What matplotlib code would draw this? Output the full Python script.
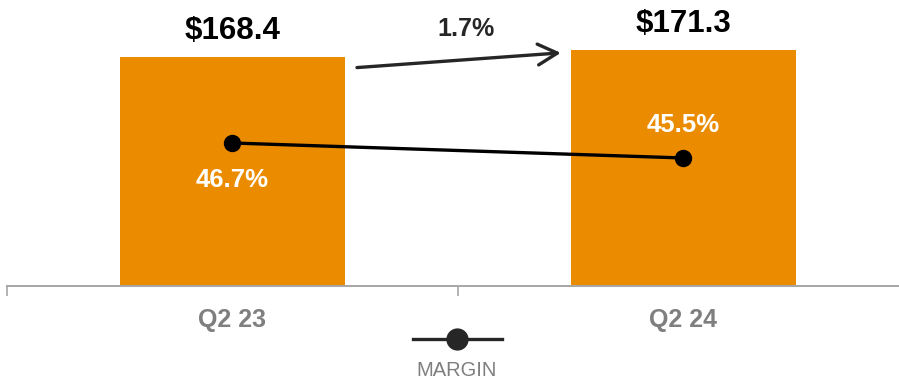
import matplotlib.pyplot as plt
from matplotlib.lines import Line2D

plt.rcParams['font.family'] = ['Liberation Sans', 'DejaVu Sans']

quarters = ['Q2 23', 'Q2 24']
revenue = [168.4, 171.3]
margin = [46.7, 45.5]

orange = '#EB8C00'
dark = '#262626'
grey = '#7f7f7f'

fig = plt.figure(figsize=(8.99, 3.79), dpi=100)
ax = fig.add_axes([7 / 899, 93 / 379, 892 / 899, 286 / 379])

x = range(len(quarters))
ax.bar(x, revenue, width=0.5, color=orange, zorder=2)
ax.set_ylim(73.5, 192.0)

for xi, v in zip(x, revenue):
    ax.annotate(f'${v:.1f}', (xi, v), xytext=(0, 18.5), textcoords='offset points',
                ha='center', va='center', fontsize=22.5, fontweight='bold', color='black')

# growth arrow between the two bars
growth = (revenue[1] / revenue[0] - 1) * 100
ax.annotate('', xy=(0.728, revenue[1] - 1.2), xytext=(0.276, revenue[0] - 4.4),
            arrowprops=dict(arrowstyle='->,head_length=1.4,head_width=0.75',
                            color=dark, lw=2.4, shrinkA=0, shrinkB=0))
ax.annotate(f'{growth:.1f}%', (0.518, 180.0), ha='center', va='center',
            fontsize=18, fontweight='bold', color=dark)

# axis styling: only the baseline with category separators
for s in ['top', 'right', 'left']:
    ax.spines[s].set_visible(False)
ax.spines['bottom'].set_color('#a6a6a6')
ax.spines['bottom'].set_linewidth(1.4)
ax.set_yticks([])
ax.set_xticks(list(x))
ax.set_xticklabels(quarters, fontsize=18, fontweight='bold', color=grey)
ax.tick_params(axis='x', which='major', length=0, pad=16)
ax.set_xticks([-0.5, 0.5, 1.5], minor=True)
ax.tick_params(axis='x', which='minor', length=7, width=1.2, color='#a6a6a6', direction='out')

# margin line on its own scale
ax2 = ax.twinx()
ax2.plot(x, margin, color='black', lw=2.4, marker='o', markersize=11.5, zorder=3)
ax2.set_ylim(35.26, 58.14)
ax2.axis('off')
offsets = [-26.5, 23.5]
for xi, m, off in zip(x, margin, offsets):
    ax2.annotate(f'{m:.1f}%', (xi, m), xytext=(0, off), textcoords='offset points',
                 ha='center', va='center', fontsize=18.5, fontweight='bold', color='white')

# shared x range, set after both plots so autoscale does not move it
ax.set_xlim(-0.5, -0.5 + 892 / 451)

# legend below the axis
fig.add_artist(Line2D([413 / 899, 502 / 899], [1 - 339 / 379] * 2, transform=fig.transFigure,
                      color=dark, lw=2.4))
fig.add_artist(Line2D([457 / 899], [1 - 339 / 379], transform=fig.transFigure,
                      color=dark, marker='o', markersize=15))
fig.text(457 / 899, 1 - 370 / 379, 'MARGIN', ha='center', va='center', fontsize=14.5, color=grey)

fig.savefig('out.png', dpi=100)
